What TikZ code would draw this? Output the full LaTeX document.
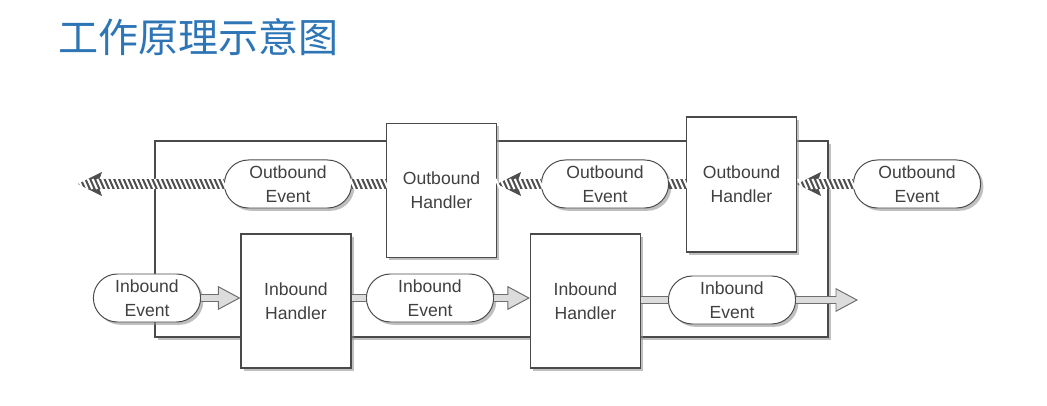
\documentclass[tikz,border=0pt]{standalone}
\usepackage{fontspec}
\setmainfont{Liberation Sans}
\newfontfamily\cjk{Noto Sans CJK SC}
\usepackage{tikz}
\usetikzlibrary{arrows.meta,positioning,shapes.misc,shadows,decorations.markings}
\definecolor{titleblue}{HTML}{2E75B6}
\definecolor{ink}{HTML}{404040}
\definecolor{edge}{HTML}{4A4A4A}
\definecolor{ropedark}{HTML}{4E4E4E}
\definecolor{infill}{HTML}{DCDCDC}
\definecolor{inedge}{HTML}{6E6E6E}
\definecolor{shade}{HTML}{8C8C8C}
\tikzset{
  softshadow/.style={drop shadow={shadow xshift=2pt,shadow yshift=-2pt,fill=shade,opacity=0.55}},
  pipebox/.style={draw=edge,fill=white,line width=0.9pt,softshadow},
  handlerbox/.style={draw=edge,fill=white,line width=0.8pt,
                     minimum width=2.75cm,minimum height=3.35cm,
                     align=center,text=ink,font=\fontsize{12.5}{17}\selectfont,
                     inner sep=2pt,softshadow},
  eventcap/.style={rounded rectangle,draw=edge,fill=white,line width=0.7pt,
                   minimum width=3.25cm,minimum height=1.2cm,
                   align=center,text=ink,font=\fontsize{12.5}{17}\selectfont,
                   inner sep=1pt,softshadow},
  ropestroke/.style={white,line width=1.5pt,-},
  outrope/.style={line width=6.5pt,draw=ropedark,
                  postaction={decorate,decoration={markings,
                    mark=between positions 0 and 1 step 3.4pt with
                    {\draw[ropestroke] (-1.6pt,3.6pt)--(1.6pt,-3.6pt);}}}},
  outropearr/.style={line width=6.5pt,draw=ropedark,
                     -{Stealth[length=17pt,width=17pt,inset=3pt,fill=ropedark,line width=0.4pt]},
                     postaction={decorate,decoration={markings,
                       mark=between positions 0 and 1 step 3.4pt with
                       {\draw[ropestroke] (-1.6pt,3.6pt)--(1.6pt,-3.6pt);},
                       mark=between positions -17pt and 0pt step 3.4pt with
                       {\draw[ropestroke,line width=1.3pt] (-3pt,9.5pt)--(3pt,-9.5pt);}}}},
  inbar/.style={line width=6pt,draw=inedge,
                postaction={draw=infill,line width=3.8pt}},
  inarr/.style={line width=6pt,draw=inedge,
                -{Triangle[length=16pt,width=17pt,fill=infill,line width=0.7pt]},
                postaction={draw=infill,line width=3.8pt,-,shorten >=15pt}}
}
\begin{document}
\begin{tikzpicture}[x=0.025cm,y=-0.025cm,>=Latex]
  \useasboundingbox (0,0) rectangle (1047,406);
  \node[anchor=west,text=titleblue,font=\cjk\fontsize{28.5}{30}\selectfont,inner sep=0pt] (title) at (58,37) {工作原理示意图};
  \node[pipebox,minimum width=16.825cm,minimum height=4.9cm] (pipe) at (491.5,239) {};
  \node[handlerbox] (oh1) at (441.5,190.5) {Outbound\\Handler};
  \node[handlerbox,minimum height=3.375cm] (oh2) at (741.5,184.5) {Outbound\\Handler};
  \node[handlerbox] (ih1) at (296,301) {Inbound\\Handler};
  \node[handlerbox] (ih2) at (585.5,301) {Inbound\\Handler};
  \node[eventcap] (oe1) at (288,184) {Outbound\\Event};
  \node[eventcap] (oe2) at (605,184) {Outbound\\Event};
  \node[eventcap] (oe3) at (917,184) {Outbound\\Event};
  \node[eventcap,minimum width=2.75cm] (ie1) at (147,298) {Inbound\\Event};
  \node[eventcap] (ie2) at (430,298) {Inbound\\Event};
  \node[eventcap] (ie3) at (732,300) {Inbound\\Event};
  \coordinate (outtip) at (78,184);
  \coordinate (intip) at (858,300);
  \draw[outropearr] (oe1.west) -- (outtip);
  \draw[outrope] (oe1.east -| oh1.west) -- (oe1.east);
  \draw[outropearr] (oe2.west) -- (oe2.west -| oh1.east);
  \draw[outrope] (oe2.east -| oh2.west) -- (oe2.east);
  \draw[outropearr] (oe3.west) -- (oe3.west -| oh2.east);
  \draw[inarr] (ie1.east) -- (ie1.east -| ih1.west);
  \draw[inbar] (ie2.west -| ih1.east) -- (ie2.west);
  \draw[inarr] (ie2.east) -- (ie2.east -| ih2.west);
  \draw[inbar] (ie3.west -| ih2.east) -- (ie3.west);
  \draw[inarr] (ie3.east) -- (intip);
\end{tikzpicture}
\end{document}
